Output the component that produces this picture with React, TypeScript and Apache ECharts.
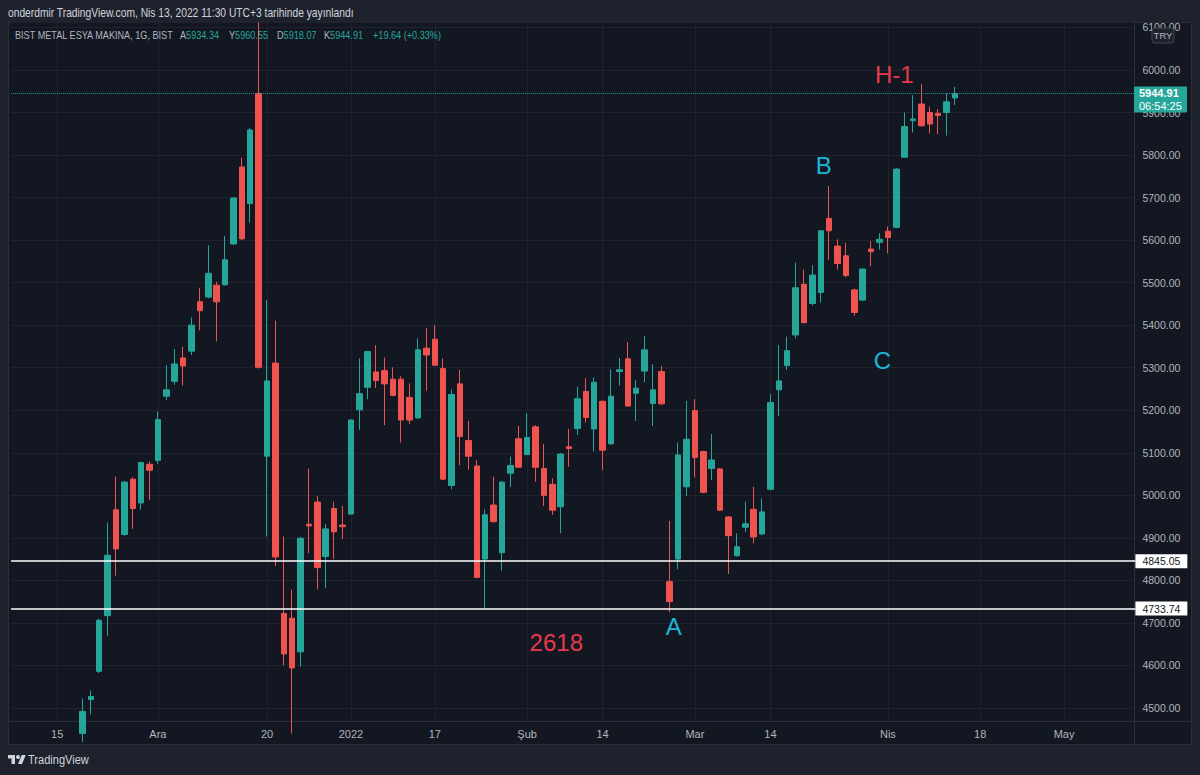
import React, { useEffect, useRef } from "react";
import * as echarts from "echarts";

// ---- categories (trading days shown on the time axis) ----
const categories = [
  "2021-11-08","2021-11-09","2021-11-10","2021-11-11","2021-11-12","2021-11-15","2021-11-16","2021-11-17","2021-11-18","2021-11-19","2021-11-22","2021-11-23","2021-11-24","2021-11-25","2021-11-26","2021-11-29","2021-11-30",
  "2021-12-01","2021-12-02","2021-12-03","2021-12-06","2021-12-07","2021-12-08","2021-12-09","2021-12-10","2021-12-13","2021-12-14","2021-12-15","2021-12-16","2021-12-17","2021-12-20","2021-12-21","2021-12-22","2021-12-23","2021-12-24","2021-12-27","2021-12-28","2021-12-29","2021-12-30","2021-12-31",
  "2022-01-03","2022-01-04","2022-01-05","2022-01-06","2022-01-07","2022-01-10","2022-01-11","2022-01-12","2022-01-13","2022-01-14","2022-01-17","2022-01-18","2022-01-19","2022-01-20","2022-01-21","2022-01-24","2022-01-25","2022-01-26","2022-01-27","2022-01-28","2022-01-31",
  "2022-02-01","2022-02-02","2022-02-03","2022-02-04","2022-02-07","2022-02-08","2022-02-09","2022-02-10","2022-02-11","2022-02-14","2022-02-15","2022-02-16","2022-02-17","2022-02-18","2022-02-21","2022-02-22","2022-02-23","2022-02-24","2022-02-25","2022-02-28",
  "2022-03-01","2022-03-02","2022-03-03","2022-03-04","2022-03-07","2022-03-08","2022-03-09","2022-03-10","2022-03-11","2022-03-14","2022-03-15","2022-03-16","2022-03-17","2022-03-18","2022-03-21","2022-03-22","2022-03-23","2022-03-24","2022-03-25","2022-03-28","2022-03-29","2022-03-30","2022-03-31",
  "2022-04-01","2022-04-04","2022-04-05","2022-04-06","2022-04-07","2022-04-08","2022-04-11","2022-04-12","2022-04-13","2022-04-14","2022-04-15","2022-04-18","2022-04-19","2022-04-20","2022-04-21","2022-04-22","2022-04-25","2022-04-26","2022-04-27","2022-04-28","2022-04-29",
  "2022-05-02","2022-05-03","2022-05-04","2022-05-05","2022-05-06","2022-05-09","2022-05-10","2022-05-11","2022-05-12",
];

// ---- time axis tick labels ----
const tickLabels: Record<string, string> = {
  "2021-11-15": "15",
  "2021-12-01": "Ara",
  "2021-12-20": "20",
  "2022-01-03": "2022",
  "2022-01-17": "17",
  "2022-02-01": "Şub",
  "2022-02-14": "14",
  "2022-03-01": "Mar",
  "2022-03-14": "14",
  "2022-04-01": "Nis",
  "2022-04-18": "18",
  "2022-05-02": "May",
};

// ---- OHLC values, one per trading day starting at firstCandleDate ----
const firstCandleDate = "2021-11-18";
const opens = [
  4440, 4520, 4586, 4717, 4966, 4908, 5038, 4982, 5073,
  5082, 5233, 5268, 5323, 5339, 5455, 5466, 5494, 5495, 5591, 5772, 5686, 5945, 5092, 5311, 4722, 4711, 4632, 4932, 4984, 4856, 4969, 4930,
  4956, 5201, 5254, 5290, 5293, 5273, 5273, 5230, 5182, 5346, 5367, 5298, 5023, 5262, 5129, 5069, 4850, 4977, 4865, 5052, 5133,
  5096, 5161, 5063, 5026, 4973, 5114, 5157, 5244, 5156, 5221, 5121, 5291, 5321, 5240, 5292, 5216, 5291, 4797, 4850, 5020,
  5199, 5103, 5063, 5062, 4949, 4858, 4925, 4967, 4909, 5014, 5248, 5305, 5377, 5496, 5451, 5477, 5651, 5586, 5563, 5483, 5459, 5579, 5595,
  5621, 5630, 5795, 5881, 5920, 5900, 5898, 5900, 5934.34,
];
const closes = [
  4492, 4527, 4706, 4859, 4874, 5031, 4969, 5077, 5059,
  5178, 5248, 5309, 5304, 5400, 5434, 5522, 5455, 5554, 5699, 5603, 5859, 5301, 5269, 4855, 4627, 4594, 4899, 4928, 4830, 4921, 4914, 4926,
  5177, 5239, 5338, 5270, 5262, 5235, 5177, 5177, 5342, 5330, 5306, 5038, 5237, 5138, 5092, 4807, 4954, 4938, 5031, 5070, 5066,
  5136, 5066, 5000, 4965, 5097, 5110, 5227, 5183, 5266, 5106, 5233, 5295, 5210, 5252, 5342, 5248, 5215, 4750, 5095, 5132,
  5089, 5007, 5083, 4965, 4905, 4879, 4933, 4902, 4961, 5218, 5269, 5340, 5488, 5406, 5518, 5622, 5622, 5545, 5517, 5430, 5532, 5573, 5602,
  5606, 5767, 5867, 5885, 5869, 5873, 5893, 5925.27, 5944.91,
];
const lows = [
  4420, 4485, 4582, 4670, 4811, 4905, 4921, 4966, 4988,
  5074, 5224, 5260, 5258, 5330, 5388, 5463, 5362, 5493, 5589, 5600, 5641, 5298, 4903, 4834, 4600, 4440, 4597, 4864, 4779, 4781, 4850, 4897,
  4954, 5154, 5226, 5252, 5165, 5233, 5124, 5168, 5180, 5246, 5304, 5036, 5014, 5071, 5060, 4805, 4733, 4936, 4823, 5019, 5064,
  5094, 5032, 4975, 4954, 4911, 5067, 5142, 5171, 5103, 5059, 5119, 5258, 5208, 5175, 5266, 5163, 5213, 4725, 4826, 4998,
  5042, 5005, 5036, 4963, 4815, 4856, 4914, 4887, 4907, 5012, 5186, 5295, 5369, 5404, 5446, 5453, 5553, 5531, 5513, 5422, 5457, 5539, 5578,
  5569, 5628, 5793, 5853, 5867, 5851, 5850, 5846, 5918.07,
];
const highs = [
  4522, 4541, 4710, 4936, 5044, 5034, 5042, 5079, 5080,
  5197, 5306, 5344, 5349, 5418, 5488, 5588, 5502, 5610, 5701, 5794, 5863, 6112, 5459, 5411, 4903, 4778, 4902, 5063, 4998, 4933, 4985, 4975,
  5179, 5322, 5340, 5353, 5324, 5301, 5280, 5263, 5369, 5393, 5400, 5322, 5249, 5295, 5175, 5083, 4967, 5044, 5033, 5091, 5163,
  5193, 5165, 5121, 5040, 5099, 5156, 5255, 5275, 5277, 5223, 5296, 5323, 5360, 5271, 5375, 5308, 5304, 4940, 5124, 5222,
  5226, 5105, 5144, 5064, 4951, 4911, 4985, 5020, 4993, 5238, 5353, 5373, 5547, 5531, 5541, 5624, 5727, 5602, 5594, 5486, 5534, 5598, 5616,
  5632, 5769, 5900, 5941, 5967, 5914, 5908, 5945, 5960.55,
];

// ---- horizontal levels and last price ----
const levelValues = [4845.05, 4733.74];
const lastPrice = 5944.91;
const lastPriceTimer = "06:54:25";

// ---- y axis visible range ----
const yMin = 4469.3;
const yMax = 6112.9;

// ---- legend / header texts ----
const headerText = "onderdmir TradingView.com, Nis 13, 2022 11:30 UTC+3 tarihinde yayınlandı";
const symbolText = "BIST METAL ESYA MAKINA, 1G, BIST";
const legendLabels = ["A", "Y", "D", "K"];
const legendValues = ["5934.34", "5960.55", "5918.07", "5944.91"];
const changeText = "+19.64 (+0.33%)";

// ---- chart annotations ----
const annotationTexts = ["H-1", "B", "C", "A", "2618"];
const annotationDates = ["2022-04-04", "2022-03-22", "2022-03-31", "2022-02-24", "2022-02-04"];
const annotationValues = [5990.6, 5776.6, 5316.9, 4691.5, 4653.9];

const UP = "#26a69a";
const DOWN = "#ef5350";
const RED_TEXT = "#e8394c";
const BLUE_TEXT = "#1cb5d6";
const AXIS_TEXT = "#b2b5be";
const GRID = "#1f2330";
const BORDER = "#2a2e39";
const FONT = "'Liberation Sans Narrow', 'Liberation Sans', Arial, sans-serif";

const annotationColors = [RED_TEXT, BLUE_TEXT, BLUE_TEXT, BLUE_TEXT, RED_TEXT];
const annotationSizes = [24, 24, 24, 24, 24];
const annotationDx = [-2, 3, 3, 4, 4];

function buildCandles() {
  const start = categories.indexOf(firstCandleDate);
  return categories.map((_, i) => {
    const k = i - start;
    if (k < 0 || k >= opens.length) return "-";
    return [opens[k], closes[k], lows[k], highs[k]];
  });
}

function buildOption(): any {
  const isTick = (_i: number, v: string) => tickLabels[v] !== undefined;
  return {
    animation: false,
    backgroundColor: "transparent",
    grid: { left: 11.1, right: 64.6, top: 22, bottom: 54, containLabel: false },
    xAxis: {
      type: "category",
      data: categories,
      boundaryGap: true,
      axisLine: { show: false },
      axisTick: { show: false },
      axisLabel: {
        interval: isTick,
        formatter: (v: string) => tickLabels[v] ?? "",
        color: AXIS_TEXT,
        fontSize: 11,
        fontFamily: FONT,
        margin: 7,
      },
      splitLine: {
        show: true,
        interval: isTick,
        alignWithLabel: true,
        lineStyle: { color: GRID, width: 1 },
      },
    },
    yAxis: {
      type: "value",
      position: "right",
      min: yMin,
      max: yMax,
      splitNumber: 16,
      axisLine: { show: false },
      axisTick: { show: false },
      axisLabel: {
        color: AXIS_TEXT,
        fontSize: 10.5,
        fontFamily: FONT,
        margin: 7,
        showMinLabel: false,
        showMaxLabel: false,
        formatter: (v: number) => v.toFixed(2),
      },
      splitLine: { show: true, lineStyle: { color: GRID, width: 1 } },
    },
    series: [
      {
        type: "candlestick",
        data: buildCandles(),
        barWidth: 6,
        clip: true,
        itemStyle: {
          color: UP,
          color0: DOWN,
          borderColor: UP,
          borderColor0: DOWN,
          borderWidth: 1,
        },
        markLine: {
          silent: true,
          symbol: ["none", "none"],
          z: 5,
          data: [
            ...levelValues.map((v) => ({
              yAxis: v,
              lineStyle: { color: "#ffffff", width: 1.5, type: "solid" },
              label: {
                show: true,
                position: "end",
                distance: 0,
                formatter: () => v.toFixed(2),
                backgroundColor: "#ffffff",
                color: "#131722",
                fontSize: 10.5,
                fontFamily: FONT,
                padding: [2, 7, 1, 7],
              },
            })),
            {
              yAxis: lastPrice,
              lineStyle: { color: UP, width: 1, type: "dotted", opacity: 0.9 },
              label: { show: false },
            },
          ],
        },
        markPoint: {
          silent: true,
          symbol: "circle",
          symbolSize: 1,
          itemStyle: { color: "rgba(0,0,0,0)" },
          data: annotationTexts.map((t, i) => ({
            coord: [annotationDates[i], annotationValues[i]],
            value: t,
            label: {
              show: true,
              position: "inside",
              formatter: () => t,
              color: annotationColors[i],
              fontSize: annotationSizes[i],
              fontFamily: FONT,
              offset: [annotationDx[i], 0],
            },
          })),
        },
      },
    ],
  };
}

function buildGraphics(py: number): any[] {
  const legendX = [180, 229, 277, 324];
  const SX = 0.83;
  const els: any[] = [
    { type: "line", silent: true, shape: { x1: 1134.5, y1: 22, x2: 1134.5, y2: 744 }, style: { stroke: BORDER, lineWidth: 1 } },
    { type: "line", silent: true, shape: { x1: 8, y1: 721.5, x2: 1191, y2: 721.5 }, style: { stroke: BORDER, lineWidth: 1 } },
    {
      type: "text", x: 8, y: 13, scaleX: 0.856, silent: true, z: 100,
      style: { text: headerText, fill: "#d1d4dc", fontSize: 12, fontFamily: FONT, verticalAlign: "middle" },
    },
    {
      type: "text", x: 15, y: 35, scaleX: SX, silent: true, z: 100,
      style: { text: symbolText, fill: AXIS_TEXT, fontSize: 11, fontFamily: FONT, verticalAlign: "middle" },
    },
    ...legendLabels.map((l, i) => ({
      type: "text", x: legendX[i], y: 35, scaleX: SX, silent: true, z: 100,
      style: {
        text: `{l|${l}}{v|${legendValues[i]}}`,
        fontSize: 11, fontFamily: FONT, verticalAlign: "middle",
        rich: { l: { fill: AXIS_TEXT, fontSize: 11, fontFamily: FONT }, v: { fill: UP, fontSize: 11, fontFamily: FONT } },
      },
    })),
    {
      type: "text", x: 373, y: 35, scaleX: SX, silent: true, z: 100,
      style: { text: changeText, fill: UP, fontSize: 11, fontFamily: FONT, verticalAlign: "middle" },
    },
    // TRY currency box
    {
      type: "rect", z: 100, silent: true,
      shape: { x: 1152, y: 28, width: 22, height: 15, r: 3 },
      style: { fill: "#1e222d", stroke: "#434651", lineWidth: 1 },
    },
    {
      type: "text", x: 1163, y: 35.5, z: 101, silent: true,
      style: { text: "TRY", fill: AXIS_TEXT, fontSize: 9.5, fontFamily: FONT, align: "center", verticalAlign: "middle" },
    },
    // last price label
    {
      type: "rect", z: 100, silent: true,
      shape: { x: 1134, y: py - 7, width: 53, height: 26, r: 1 },
      style: { fill: UP },
    },
    {
      type: "text", x: 1139, y: py, z: 101, silent: true,
      style: { text: lastPrice.toFixed(2), fill: "#ffffff", fontSize: 11, fontWeight: "bold", fontFamily: FONT, verticalAlign: "middle" },
    },
    {
      type: "text", x: 1139, y: py + 12.5, z: 101, silent: true,
      style: { text: lastPriceTimer, fill: "#ffffff", fontSize: 11, fontFamily: FONT, verticalAlign: "middle" },
    },
    // TradingView logo
    {
      type: "group", x: 8, y: 753, scaleX: 0.5, scaleY: 0.5, z: 100, silent: true,
      children: [
        { type: "polygon", shape: { points: [[0, 4], [14, 4], [14, 22], [7, 22], [7, 11], [0, 11]] }, style: { fill: "#d1d4dc" } },
        { type: "circle", shape: { cx: 20, cy: 8, r: 4 }, style: { fill: "#d1d4dc" } },
        { type: "polygon", shape: { points: [[27.5, 4], [35.5, 4], [28, 22], [20, 22]] }, style: { fill: "#d1d4dc" } },
      ],
    },
    {
      type: "text", x: 28, y: 760, scaleX: 0.82, z: 100, silent: true,
      style: { text: "TradingView", fill: "#d1d4dc", fontSize: 13.5, fontFamily: FONT, verticalAlign: "middle" },
    },
  ];
  return els;
}

export default function App() {
  const ref = useRef<HTMLDivElement>(null);
  useEffect(() => {
    if (!ref.current) return;
    const chart = echarts.init(ref.current, null, { renderer: "svg" });
    chart.setOption(buildOption());
    const py = chart.convertToPixel({ yAxisIndex: 0 }, lastPrice) as unknown as number;
    chart.setOption({ graphic: buildGraphics(typeof py === "number" ? py : 94) });
    return () => chart.dispose();
  }, []);
  return (
    <div style={{ position: "fixed", left: 0, top: 0, width: 1200, height: 775, background: "#1e222d", overflow: "hidden" }}>
      <div
        style={{
          position: "absolute", left: 8, top: 22, width: 1184, height: 723,
          background: "#131722", boxSizing: "border-box", border: `1px solid ${BORDER}`,
        }}
      />
      <div ref={ref} style={{ position: "absolute", left: 0, top: 0, width: 1200, height: 775 }} />
    </div>
  );
}
